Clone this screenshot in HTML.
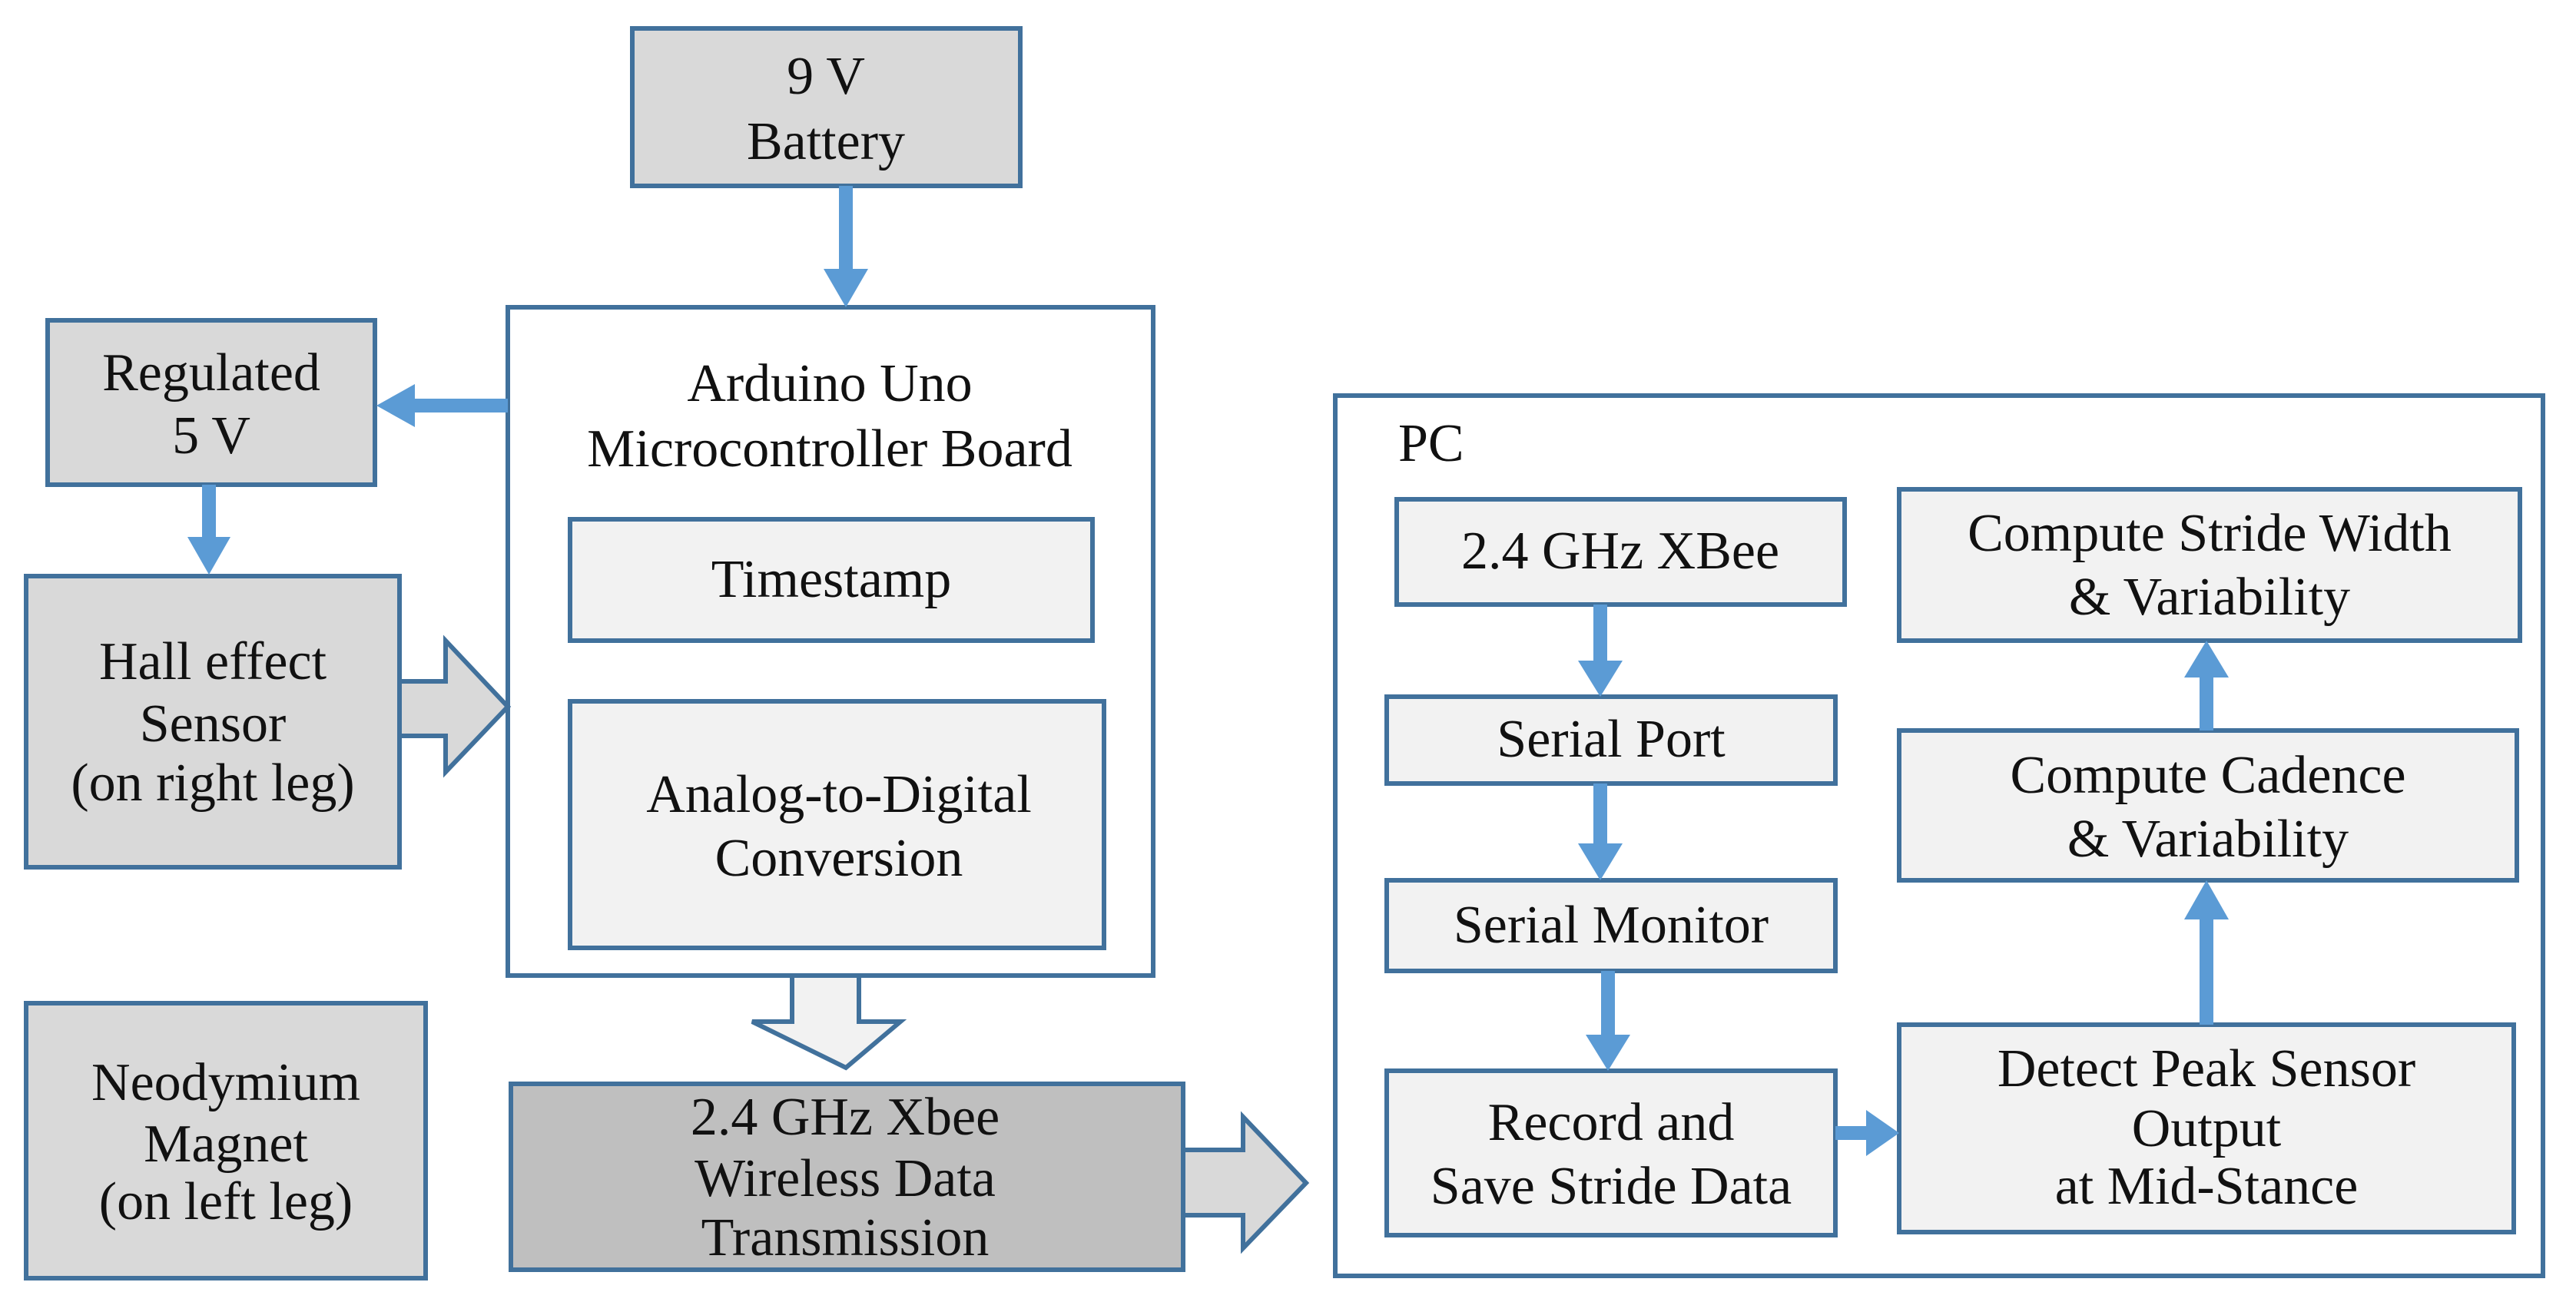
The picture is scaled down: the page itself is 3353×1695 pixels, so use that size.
<!DOCTYPE html>
<html><head><style>html,body{margin:0;padding:0;background:#fff}svg{display:block}text{font-family:"Liberation Serif",serif;font-size:70px;fill:#111;text-anchor:middle}</style></head>
<body>
<svg width="3353" height="1695" viewBox="0 0 3353 1695" xmlns="http://www.w3.org/2000/svg">
<g stroke="#41719c" stroke-width="6">
<rect x="823" y="37" width="505" height="205" fill="#d9d9d9"/>
<rect x="661" y="400" width="840" height="870" fill="#fff"/>
<rect x="62" y="417" width="426" height="214" fill="#d9d9d9"/>
<rect x="34" y="750" width="486" height="379" fill="#d9d9d9"/>
<rect x="742" y="676" width="680" height="158" fill="#f2f2f2"/>
<rect x="742" y="913" width="695" height="321" fill="#f2f2f2"/>
<rect x="665" y="1411" width="875" height="242" fill="#bfbfbf"/>
<rect x="34" y="1306" width="520" height="358" fill="#d9d9d9"/>
<rect x="1738" y="515" width="1572" height="1146" fill="#fff"/>
<rect x="1818" y="650" width="583" height="137" fill="#f2f2f2"/>
<rect x="1805" y="907" width="584" height="113" fill="#f2f2f2"/>
<rect x="1805" y="1146" width="584" height="118" fill="#f2f2f2"/>
<rect x="1805" y="1394" width="584" height="214" fill="#f2f2f2"/>
<rect x="2472" y="1334" width="800" height="270" fill="#f2f2f2"/>
<rect x="2472" y="951" width="804" height="195" fill="#f2f2f2"/>
<rect x="2472" y="637" width="808" height="197" fill="#f2f2f2"/>
<polygon points="520,887 580,887 580,834 661,920 580,1005 580,958 520,958" fill="#d9d9d9"/>
<polygon points="1031,1270 1118,1270 1118,1330 1172,1330 1101,1390 979,1330 1031,1330" fill="#f2f2f2"/>
<polygon points="1540,1497 1618,1497 1618,1454 1700,1540 1618,1625 1618,1582 1540,1582" fill="#d9d9d9"/>
</g>
<g fill="#5b9bd5" stroke="none">
<rect x="1092" y="242" width="18" height="110"/><polygon points="1072,350 1130,350 1101,400"/>
<rect x="540" y="519" width="121" height="18"/><polygon points="540,500 540,556 490,528"/>
<rect x="263" y="631" width="18" height="70"/><polygon points="244,699 300,699 272,748"/>
<rect x="2074" y="787" width="18" height="75"/><polygon points="2054,860 2112,860 2083,907"/>
<rect x="2074" y="1020" width="18" height="80"/><polygon points="2054,1098 2112,1098 2083,1146"/>
<rect x="2084" y="1264" width="18" height="85"/><polygon points="2064,1347 2122,1347 2093,1394"/>
<rect x="2389" y="1466" width="42" height="18"/><polygon points="2429,1445 2429,1505 2472,1475"/>
<rect x="2863" y="1195" width="18" height="139"/><polygon points="2843,1197 2901,1197 2872,1146"/>
<rect x="2863" y="880" width="18" height="71"/><polygon points="2843,882 2901,882 2872,834"/>
</g>
<text x="1075" y="122">9 V</text><text x="1075" y="207">Battery</text>
<text x="1080" y="522">Arduino Uno</text><text x="1080" y="607">Microcontroller Board</text>
<text x="275" y="508">Regulated</text><text x="275" y="590">5 V</text>
<text x="277" y="884">Hall effect</text><text x="277" y="965">Sensor</text><text x="277" y="1042">(on right leg)</text>
<text x="1082" y="777">Timestamp</text>
<text x="1092" y="1057">Analog-to-Digital</text><text x="1092" y="1140">Conversion</text>
<text x="1100" y="1477">2.4 GHz Xbee</text><text x="1100" y="1557">Wireless  Data</text><text x="1100" y="1634">Transmission</text>
<text x="294" y="1432">Neodymium</text><text x="294" y="1512">Magnet</text><text x="294" y="1587">(on left leg)</text>
<text x="1820" y="600" style="text-anchor:start">PC</text>
<text x="2109" y="740">2.4 GHz XBee</text>
<text x="2097" y="985">Serial Port</text>
<text x="2097" y="1227">Serial Monitor</text>
<text x="2097" y="1484">Record and</text><text x="2097" y="1567">Save Stride Data</text>
<text x="2872" y="1414">Detect Peak Sensor</text><text x="2872" y="1492">Output</text><text x="2872" y="1567">at Mid-Stance</text>
<text x="2874" y="1032">Compute Cadence</text><text x="2874" y="1115">&amp; Variability</text>
<text x="2876" y="717">Compute Stride Width</text><text x="2876" y="800">&amp; Variability</text>
</svg>
</body></html>
